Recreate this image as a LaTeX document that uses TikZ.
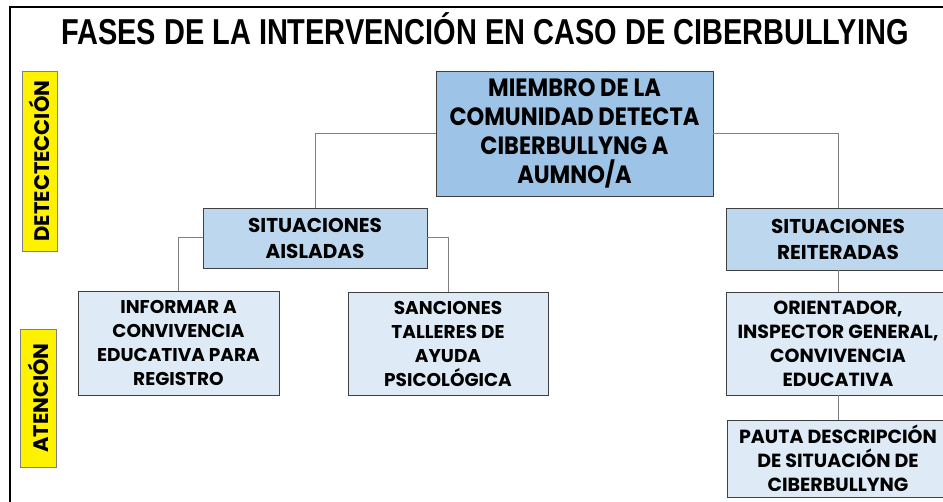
\documentclass[tikz,border=0pt]{standalone}
\usepackage{fontspec}
\setmainfont{Poppins}
\newfontfamily\titlefont{Liberation Sans}
\newfontfamily\topfont{Poppins}[FakeStretch=0.9]
\definecolor{bdark}{HTML}{9DC3E6}
\definecolor{bmid}{HTML}{BDD7EE}
\definecolor{blight}{HTML}{DEEBF7}
\definecolor{edge}{HTML}{404040}
\definecolor{conn}{HTML}{808080}
\tikzset{
  boxbase/.style={rectangle, draw=edge, line width=0.9pt, align=center, inner sep=0pt, font=\bfseries},
  topbox/.style={boxbase, fill=bdark, font=\topfont\fontsize{25}{29}\selectfont\bfseries},
  midbox/.style={boxbase, fill=bmid, font=\fontsize{20}{26}\selectfont\bfseries},
  lowbox/.style={boxbase, fill=blight, font=\fontsize{18.5}{24}\selectfont\bfseries},
  rightbox/.style={boxbase, fill=blight, font=\fontsize{19}{24}\selectfont\bfseries},
  phase/.style={rectangle, draw=conn, line width=0.9pt, fill=yellow, inner sep=0pt, rotate=90, font=\fontsize{21}{24}\selectfont\bfseries},
  conline/.style={draw=conn, line width=1pt}
}
\begin{document}
\begin{tikzpicture}[x=1pt,y=-1pt]
\useasboundingbox (0,0) rectangle (943,502);
\clip (0,0) rectangle (943,502);
\fill[white] (0,0) rectangle (943,502);
\draw[line width=1.5pt, black] (10,7) rectangle (965,530);
\node[font=\titlefont\fontsize{36}{36}\selectfont\bfseries] (title) at (485,28.5) {\scalebox{0.804}[1]{FASES DE LA INTERVENCIÓN EN CASO DE CIBERBULLYING}};
\node[phase, minimum width=180pt, minimum height=35pt] (det) at (39.5,161) {DETECTECCIÓN};
\node[phase, minimum width=138pt, minimum height=36pt] (ate) at (38,398) {ATENCIÓN};
\node[topbox, minimum width=277pt, minimum height=125pt] (m) at (574.5,133.5) {MIEMBRO DE LA\\COMUNIDAD DETECTA\\CIBERBULLYNG A\\AUMNO/A};
\node[midbox, minimum width=224pt, minimum height=60pt] (sa) at (315,238) {SITUACIONES\\AISLADAS};
\node[midbox, minimum width=224pt, minimum height=62pt] (sr) at (838,239) {SITUACIONES\\REITERADAS};
\node[lowbox, minimum width=201pt, minimum height=104pt] (inf) at (178.5,343) {INFORMAR A\\CONVIVENCIA\\EDUCATIVA PARA\\REGISTRO};
\node[lowbox, minimum width=200pt, minimum height=103pt] (san) at (448,343.5) {SANCIONES\\TALLERES DE\\AYUDA\\PSICOLÓGICA};
\node[rightbox, minimum width=224pt, minimum height=103pt] (ori) at (838,343.5) {ORIENTADOR,\\INSPECTOR GENERAL,\\CONVIVENCIA\\EDUCATIVA};
\node[rightbox, minimum width=222pt, minimum height=77pt] (pau) at (838,458.5) {PAUTA DESCRIPCIÓN\\DE SITUACIÓN DE\\CIBERBULLYNG};
\draw[conline] (m.west) -| (sa.north);
\draw[conline] (m.east) -| (sr.north);
\draw[conline] (sa.west) -| (inf.north);
\draw[conline] (sa.east) -| (san.north);
\draw[conline] (sr) -- (ori);
\draw[conline] (ori) -- (pau);
\end{tikzpicture}
\end{document}
